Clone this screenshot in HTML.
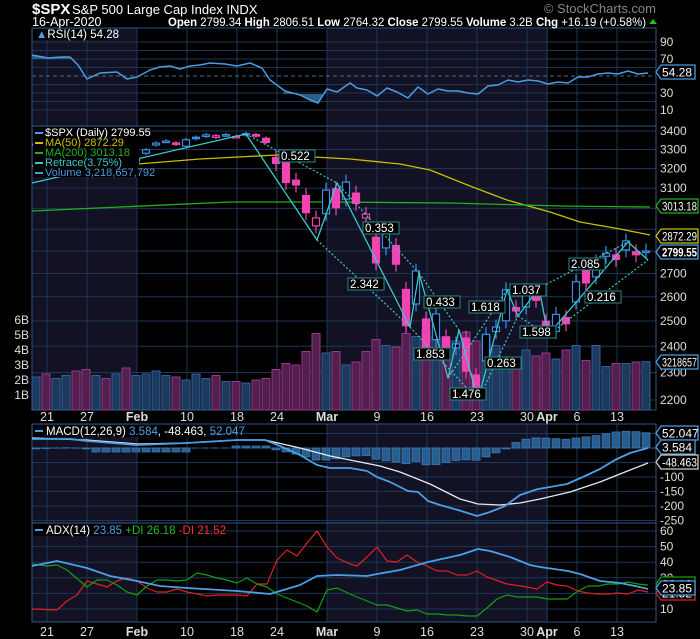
<!DOCTYPE html>
<html><head><meta charset="utf-8"><style>
html,body{margin:0;padding:0;background:#000;}
svg{display:block;font-family:"Liberation Sans",sans-serif;}
</style></head><body>
<svg id="s" width="700" height="639" viewBox="0 0 700 639" xmlns="http://www.w3.org/2000/svg"></svg>
<script>
const S=document.getElementById('s');let h='';
const X=i=>36+10*i;
const YP=p=>131+618*Math.log(3400/p);
const YR=v=>118.5-0.85*v;
const YM=v=>448-0.29*v;
const YA=v=>624.6-1.56*v;
const panels=[[28,126],[126,410],[424,523],[523,622]];
for(const [a,b] of panels){
 h+=`<rect x="32" y="${a}" width="105" height="${b-a}" fill="#121224"/>`;
 h+=`<rect x="327" y="${a}" width="221" height="${b-a}" fill="#121224"/>`;
}
const G='#1d3656';
const ticks=[[1,'21'],[5,'27'],[10,'Feb',1],[15,'10'],[20,'18'],[24,'24'],[29,'Mar',1],[34,'9'],[39,'16'],[44,'23'],[49,'30'],[51,'Apr',1],[54,'6'],[58,'13']];
for(const [a,b] of panels) for(const t of ticks){const x=X(t[0])+1;h+=`<line x1="${x}" y1="${a}" x2="${x}" y2="${b}" stroke="${G}"/>`;}
for(let v=10;v<=90;v+=10){ if(v==50) h+=`<line x1="32" x2="656" y1="${YR(v)}" y2="${YR(v)}" stroke="#4a6a8a" stroke-dasharray="4,3"/>`; else h+=`<line x1="32" x2="656" y1="${YR(v)}" y2="${YR(v)}" stroke="${G}"/>`;}
for(let p=2200;p<=3400;p+=100)h+=`<line x1="32" x2="656" y1="${YP(p)}" y2="${YP(p)}" stroke="${G}"/>`;
for(const v of [50,0,-50,-100,-150,-200,-250])h+=`<line x1="32" x2="656" y1="${YM(v)}" y2="${YM(v)}" stroke="${G}"/>`;
for(let v=10;v<=60;v+=10)h+=`<line x1="32" x2="656" y1="${YA(v)}" y2="${YA(v)}" stroke="${G}"/>`;
for(const [a,b] of panels)h+=`<rect x="32" y="${a}" width="624" height="${b-a}" fill="none" stroke="#2c5580"/>`;
const C=[3330,3321,3321,3326,3295,3244,3276,3273,3284,3226,3249,3298,3334,3345,3328,3352,3358,3379,3374,3380,3370,3386,3373,3338,3226,3128,3116,2979,2954,3090,3003,3130,3024,2972,2747,2882,2741,2481,2711,2386,2529,2398,2409,2305,2237,2447,2476,2630,2541,2627,2585,2471,2527,2489,2664,2659,2750,2790,2762,2846,2783,2800];
const O=[3323,3321,3330,3315,3334,3248,3256,3289,3257,3282,3235,3280,3324,3344,3335,3318,3366,3370,3365,3378,3369,3380,3380,3360,3257,3238,3140,3063,2916,2974,3096,3045,3075,2954,2863,2814,2825,2631,2570,2508,2426,2437,2394,2432,2291,2344,2458,2501,2555,2558,2614,2499,2458,2514,2578,2738,2685,2776,2782,2805,2796,2799];
const V=[2.2,2.4,2.1,2.3,2.6,2.7,2.3,2.1,2.4,2.8,2.3,2.4,2.6,2.3,2.2,2.0,2.4,2.1,2.3,1.9,1.9,1.8,2.0,2.1,2.7,3.1,3.0,3.9,5.1,3.8,3.9,3.0,3.2,3.9,4.7,4.3,4.2,5.1,4.9,5.3,4.9,4.8,4.6,5.2,4.6,5.0,4.3,3.5,3.3,4.0,3.6,3.8,3.4,4.0,4.3,3.3,4.3,2.9,3.1,3.1,3.2,3.22];
for(let i=0;i<62;i++){const up=i==0||C[i]>=C[i-1];const hgt=V[i]*15;
 h+=`<rect x="${X(i)-4}" y="${410-hgt}" width="8" height="${hgt}" fill="${up?'#1d3a5e':'#521f4e'}" stroke="${up?'#2f6299':'#9a3888'}" stroke-width="1"/>`;}
const pl=(pts,c,w)=>`<polyline points="${pts.map(p=>p.join(',')).join(' ')}" fill="none" stroke="${c}" stroke-width="${w||1.3}" stroke-linejoin="round"/>`;
h+=pl([[32,166],[113,166],[200,159],[277,155],[350,159],[400,164],[430,170],[470,186],[507,200],[550,212],[580,222],[620,229],[650,235]],'#c8c000');
h+=pl([[32,211],[120,207],[230,202],[330,202],[450,203],[560,206],[650,207]],'#20b020');
for(let i=0;i<62;i++){const o=O[i],c=C[i];const r=i<24?0.003:0.012;
 const H=Math.max(o,c)*(1+r),L=Math.min(o,c)*(1-r);const up=i==0||c>=C[i-1];const col=up?'#3a8ee6':'#f044b4';
 const x=X(i);h+=`<line x1="${x}" x2="${x}" y1="${YP(H)}" y2="${YP(L)}" stroke="${col}" stroke-width="1.2"/>`;
 const t=YP(Math.max(o,c)),b=YP(Math.min(o,c));const bh=Math.max(1.5,b-t);
 h+=`<rect x="${x-3.5}" y="${t}" width="7" height="${bh}" fill="${c>o?'#000':col}" stroke="${col}" stroke-width="1.2"/>`;}
const Z=[[32,183],[246,134],[317,240],[337,183],[410,327],[419,273],[448,378],[459,330],[478,400],[507,290],[518,316],[539,288],[548,335],[628,242],[648,260]];
h+=pl(Z,'#3cc8c8',1.3);
const D=[[[246,134],[337,183]],[[317,240],[410,327]],[[337,183],[419,273]],[[410,327],[478,400]],[[419,273],[459,330]],[[448,378],[507,290]],[[459,330],[478,400]],[[478,400],[518,316]],[[507,290],[539,288]],[[518,316],[548,335]],[[539,288],[628,242]],[[548,335],[648,260]]];
for(const d of D)h+=`<line x1="${d[0][0]}" y1="${d[0][1]}" x2="${d[1][0]}" y2="${d[1][1]}" stroke="#3cc8c8" stroke-width="1.2" stroke-dasharray="2,2"/>`;
const lab=(x,y,t)=>{h+=`<rect x="${x}" y="${y}" width="${t.length*6.4+4}" height="12" fill="#000" stroke="#2a8a8a"/><text x="${x+2}" y="${y+10}" fill="#fff" font-size="11.5">${t}</text>`;};
lab(279,150,'0.522');lab(363,222,'0.353');lab(348,278,'2.342');lab(424,296,'0.433');lab(414,348,'1.853');lab(450,388,'1.476');lab(469,301,'1.618');lab(485,357,'0.263');lab(510,284,'1.037');lab(520,326,'1.598');lab(569,258,'2.085');lab(585,291,'0.216');
const R=[[32,55],[48,58],[62,57],[70,57],[78,65],[87,79],[100,73],[117,72],[127,79],[137,77],[150,70],[160,67],[170,66],[180,69],[190,66],[200,65],[210,63],[225,64],[237,66],[250,63],[262,68],[270,80],[285,91],[300,95],[310,100],[318,103],[327,89],[337,92],[350,83],[357,88],[367,90],[377,96],[387,88],[397,92],[408,98],[418,87],[428,94],[438,89],[448,91],[458,91],[468,93],[478,94],[488,86],[498,85],[508,80],[518,82],[528,80],[538,81],[548,84],[558,82],[568,83],[578,77],[588,77],[598,74],[608,73],[618,74],[628,71],[638,74],[648,73]];
h+=`<polygon points="32,59 32,55 48,58 62,57 70,57 71,59" fill="#2a5f88"/>`;
h+=`<polygon points="283,94 285,91 300,95 310,100 318,103 327,89 325,94" fill="#2a5f88"/>`;
h+=pl(R,'#4a9de0',1.5);
const M=[[32,439],[70,439],[87,441],[137,445],[187,443],[237,440],[265,440],[280,446],[300,455],[317,465],[330,468],[350,468],[367,471],[377,477],[390,482],[408,491],[418,492],[428,501],[440,505],[458,510],[477,516],[490,512],[505,506],[520,495],[538,489],[550,487],[567,484],[585,476],[600,469],[615,460],[630,453],[648,448]];
const Sg=[[32,438],[87,440],[137,444],[187,443],[237,440],[265,440],[300,448],[330,456],[350,460],[380,466],[400,472],[430,484],[460,499],[478,504],[500,505],[520,503],[540,499],[570,492],[600,482],[625,472],[648,463]];
const itp=(a,x)=>{for(let k=0;k<a.length-1;k++){if(x>=a[k][0]&&x<=a[k+1][0]){const t=(x-a[k][0])/(a[k+1][0]-a[k][0]);return a[k][1]+t*(a[k+1][1]-a[k][1]);}}return a[a.length-1][1];};
h+=`<line x1="32" x2="656" y1="448" y2="448" stroke="#2f6aa0" stroke-dasharray="6,4"/>`;
for(let i=0;i<62;i++){const x=X(i);let d=itp(M,x)-itp(Sg,x);if(i>=20&&i<24)d=-2;if(i>=6&&i<16)d=Math.max(d,4);const y0=448;
 h+=`<rect x="${x-4}" y="${Math.min(y0,y0+d)}" width="8" height="${Math.abs(d)}" fill="#2a5d8f" stroke="#3a78b0" stroke-width="0.8"/>`;}
h+=pl(Sg,'#e8e8f0',1.3);h+=pl(M,'#4aa0e8',1.8);
h+=pl([[32,609],[57,610],[67,601],[77,595],[87,581],[97,584],[107,587],[117,581],[127,578],[137,581],[147,588],[157,592],[167,592],[177,589],[187,592],[207,596],[217,595],[237,595],[247,596],[257,584],[267,584],[277,560],[287,550],[297,556],[307,543],[317,531],[327,547],[337,558],[350,564],[357,566],[367,557],[377,547],[387,561],[397,562],[407,555],[417,562],[427,566],[437,571],[447,571],[457,575],[467,575],[477,571],[487,577],[507,584],[527,587],[537,589],[547,582],[557,585],[567,586],[578,591],[588,593],[598,594],[608,594],[618,593],[628,594],[638,590],[648,592]],'#e02020',1.2);
h+=pl([[32,564],[47,566],[57,565],[67,570],[87,587],[97,580],[107,580],[117,585],[127,592],[137,595],[147,586],[157,580],[167,580],[177,581],[187,580],[197,573],[207,575],[217,578],[227,580],[237,583],[247,578],[257,584],[267,587],[277,594],[287,598],[297,602],[307,606],[317,612],[327,590],[337,588],[350,594],[357,597],[367,601],[377,605],[387,605],[397,608],[407,611],[417,610],[427,614],[437,614],[447,615],[457,615],[467,616],[477,616],[487,608],[497,599],[507,595],[517,597],[537,597],[547,599],[567,599],[578,591],[588,586],[598,586],[608,584],[618,584],[628,582],[638,584],[648,585]],'#10a010',1.2);
h+=pl([[32,566],[57,561],[87,568],[110,576],[137,581],[160,586],[187,588],[237,591],[270,594],[300,585],[317,576],[337,575],[367,576],[377,574],[400,570],[428,562],[460,555],[478,549],[490,551],[510,557],[530,565],[540,567],[568,571],[580,574],[600,581],[620,583],[635,586],[648,589]],'#4aa0e8',1.8);
const rt=(y,t)=>{h+=`<text x="660" y="${y+4}" fill="#ddd" font-size="12">${t}</text>`;};
for(const [v,t] of [[90,'90'],[70,'70'],[30,'30'],[10,'10']])rt(YR(v),t);
for(const p of [3400,3300,3200,3100,2700,2600,2500,2400,2300,2200])rt(YP(p),p);
for(const v of [-100,-150,-200,-250])rt(YM(v),v);
for(const v of [60,50,40,30,20,10])rt(YA(v),v);
const box=(y,t,bc,tc,bold)=>{const w=Math.min(37,t.length*6.2+3);h+=`<polygon points="656,${y} 661,${y-7} ${661+w},${y-7} ${661+w},${y+7} 661,${y+7}" fill="#000" stroke="${bc}" stroke-width="1.3"/><text x="662" y="${y+4.5}" fill="${tc}" font-size="12" ${t.length>6?`textLength="${w-2}" lengthAdjust="spacingAndGlyphs"`:''} ${bold?'font-weight="bold"':''}>${t}</text>`;};
box(72,'54.28','#4a9de0','#fff');
box(206,'3013.18','#20b020','#fff');box(236,'2872.29','#c8c000','#fff');box(252,'2799.55','#4a9de0','#fff',1);box(362,'3218657','#4a9de0','#fff');
box(433,'52.047','#4a9de0','#fff');box(447,'3.584','#4a9de0','#fff');box(462,'-48.463','#ccc','#fff');
box(584,'26.18','#10a010','#fff');box(593,'21.52','#e02020','#fff');box(588,'23.85','#4a9de0','#fff');
for(let b=1;b<=6;b++)h+=`<text x="29" y="${410-b*15+4}" fill="#ddd" font-size="12" text-anchor="end">${b}B</text>`;
for(const y of [421,636])for(const t of ticks)h+=`<text x="${X(t[0])+1}" y="${y}" fill="#ddd" font-size="12.5" text-anchor="middle" ${t[2]?'font-weight="bold"':''}>${t[1]}</text>`;
h+=`<rect x="33" y="29" width="74" height="11" fill="#000"/><text x="36" y="38" font-size="11.5" fill="#fff"><tspan fill="#4a9de0">▲</tspan>RSI(14) 54.28</text>`;
h+=`<rect x="33" y="127" width="106" height="50" fill="#000"/>`;
const lg=[['$SPX (Daily) 2799.55','#fff','#4a9de0'],['MA(50) 2872.29','#c8c000','#c8c000'],['MA(200) 3013.18','#20b020','#20b020'],['Retrace(3.75%)','#3cc8c8','#3cc8c8'],['Volume 3,218,657,792','#4a9de0','#4a9de0']];
lg.forEach((l,k)=>{const y=136+k*10;h+=`<rect x="35" y="${y-4}" width="8" height="2" fill="${l[2]}"/><text x="45" y="${y}" font-size="11" fill="${l[1]}">${l[0]}</text>`;});
h+=`<rect x="33" y="425" width="178" height="12" fill="#000"/><rect x="35" y="430" width="8" height="2" fill="#4aa0e8"/><text x="46" y="435" font-size="11.5" fill="#fff">MACD(12,26,9) <tspan fill="#4aa0e8">3.584</tspan>, -48.463, <tspan fill="#4aa0e8">52.047</tspan></text>`;
h+=`<rect x="33" y="524" width="168" height="12" fill="#000"/><rect x="35" y="529" width="8" height="2" fill="#4aa0e8"/><text x="46" y="534" font-size="11.5" fill="#fff">ADX(14) <tspan fill="#4aa0e8">23.85</tspan> <tspan fill="#20c020">+DI 26.18</tspan> <tspan fill="#ff3030">-DI 21.52</tspan></text>`;
h+=`<text x="32" y="14" fill="#fff" font-size="15" font-weight="bold">$SPX</text><text x="72" y="14" fill="#fff" font-size="13">S&amp;P 500 Large Cap Index  INDX</text>`;
h+=`<text x="32" y="26" fill="#fff" font-size="12.5">16-Apr-2020</text>`;
h+=`<text x="168" y="26" fill="#fff" font-size="12" textLength="478" lengthAdjust="spacingAndGlyphs"><tspan font-weight="bold">Open</tspan> 2799.34  <tspan font-weight="bold">High</tspan> 2806.51  <tspan font-weight="bold">Low</tspan> 2764.32  <tspan font-weight="bold">Close</tspan> 2799.55  <tspan font-weight="bold">Volume</tspan> 3.2B  <tspan font-weight="bold">Chg</tspan> +16.19 (+0.58%)</text>`;
h+=`<polygon points="649,24 653,19 657,24" fill="#20c020"/>`;
h+=`<text x="656" y="13" fill="#888" font-size="13" text-anchor="end">© StockCharts.com</text>`;
S.innerHTML=h;
</script>
</body></html>
